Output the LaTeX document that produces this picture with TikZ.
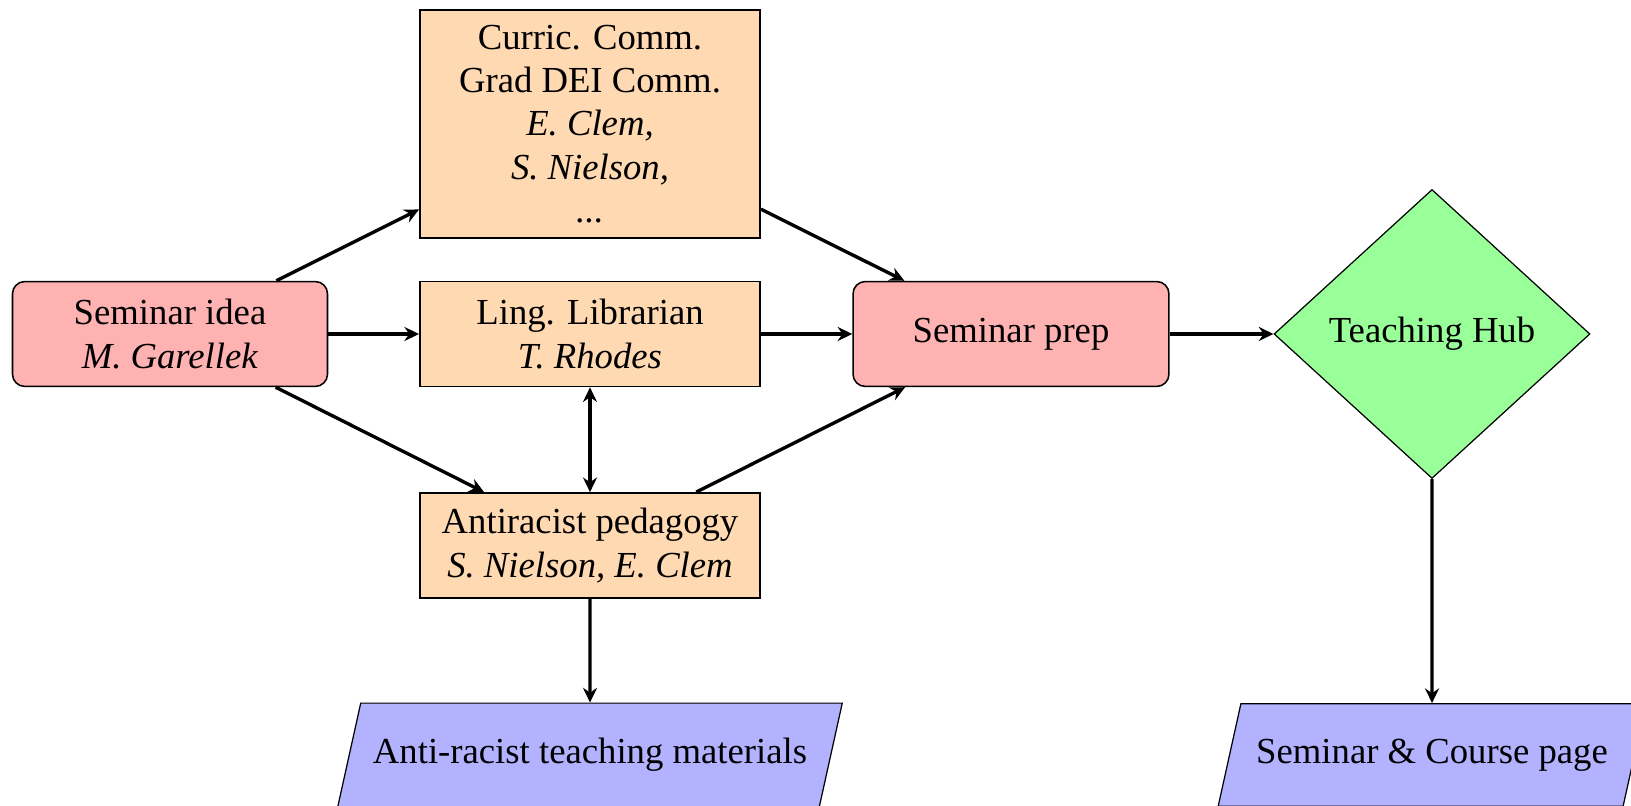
\documentclass[tikz,border=0pt]{standalone}
\usepackage{fontspec}
\setmainfont{Liberation Serif}
\usetikzlibrary{shapes.geometric,arrows.meta}
\begin{document}
\begin{tikzpicture}[x=0.327pt,y=-0.327pt,
  every node/.style={font=\fontsize{12}{14.2}\selectfont, align=center},
  startbox/.style={rectangle, rounded corners=4pt, draw=black, line width=0.5pt, fill=red!30, minimum width=103pt, minimum height=34.3pt},
  procbox/.style={rectangle, draw=black, line width=0.6pt, fill=orange!30, minimum width=111.2pt, minimum height=34.3pt},
  decbox/.style={diamond, draw=black, line width=0.4pt, fill=green!40, inner sep=0pt, minimum width=103.3pt, minimum height=94.5pt},
  iobox/.style={trapezium, trapezium left angle=77.5, trapezium right angle=102.5, draw=black, line width=0.4pt, fill=blue!30, inner xsep=4pt, inner ysep=11.5pt},
  >={Stealth[length=4.8pt, width=4.6pt, inset=1.6pt]},
  arr/.style={->, line width=1.1pt}]
\useasboundingbox (0,0) rectangle (1631,806);
\node[startbox] (idea) at (170,334) {Seminar idea\\\textit{M. Garellek}};
\node[procbox, minimum height=74.6pt] (curric) at (590,124) {Curric. Comm.\\Grad DEI Comm.\\\textit{E. Clem,}\\\textit{S. Nielson,}\\\textit{...}};
\node[procbox] (ling) at (590,334) {Ling. Librarian\\\textit{T. Rhodes}};
\node[procbox] (anti) at (590,545.5) {Antiracist pedagogy\\\textit{S. Nielson, E. Clem}};
\node[startbox, minimum width=103.3pt] (prep) at (1011,334) {Seminar prep};
\node[decbox] (hub) at (1432,334) {Teaching Hub};
\node[iobox] (mat) at (590,755) {Anti-racist teaching materials};
\node[iobox, inner xsep=5pt] (page) at (1432,755) {Seminar \& Course page};
\draw[arr] (idea) -- (curric);
\draw[arr] (idea) -- (ling);
\draw[arr] (idea) -- (anti);
\draw[arr] (curric) -- (prep);
\draw[arr] (ling) -- (prep);
\draw[arr] (anti) -- (prep);
\draw[arr, <->] (ling) -- (anti);
\draw[arr] (prep) -- (hub);
\draw[arr] (anti) -- (mat);
\draw[arr] (hub) -- (page);
\end{tikzpicture}
\end{document}
